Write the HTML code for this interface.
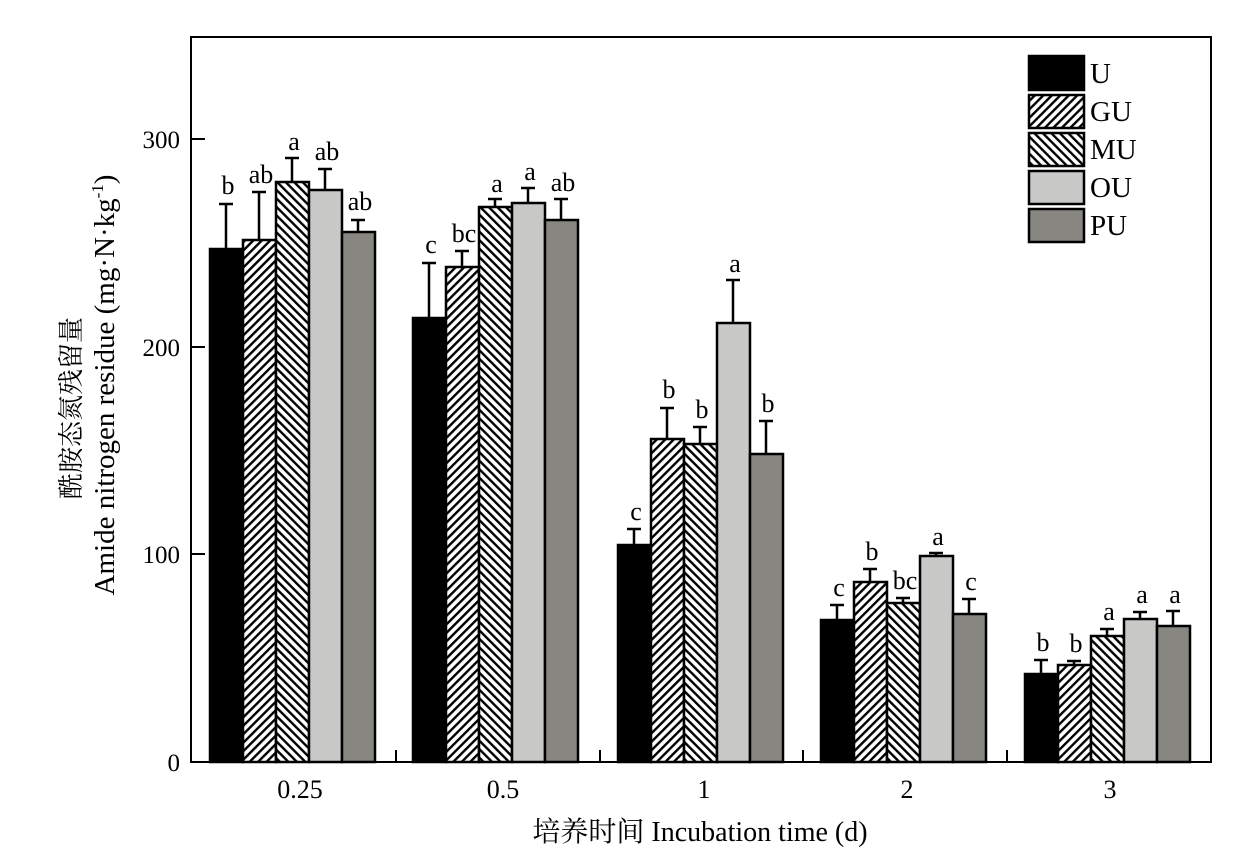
<!DOCTYPE html>
<html><head><meta charset="utf-8"><style>body{margin:0;background:#fff}svg{display:block}text{font-family:"Liberation Serif","Noto Serif CJK SC",serif;fill:#000}</style></head><body>
<svg width="1237" height="861" viewBox="0 0 1237 861">
<defs>
<pattern id="g" patternUnits="userSpaceOnUse" width="6" height="6" patternTransform="rotate(45)"><rect width="6" height="6" fill="#fff"/><rect width="2.4" height="6" fill="#000"/></pattern>
<pattern id="m" patternUnits="userSpaceOnUse" width="6" height="6" patternTransform="rotate(-45)"><rect width="6" height="6" fill="#fff"/><rect width="2.4" height="6" fill="#000"/></pattern>
</defs>
<rect x="191" y="37" width="1020" height="725" fill="none" stroke="#000" stroke-width="2"/>
<g stroke="#000" stroke-width="2">
<line x1="191" y1="139" x2="205" y2="139"/><line x1="191" y1="347" x2="205" y2="347"/><line x1="191" y1="554" x2="205" y2="554"/>
<line x1="396" y1="762" x2="396" y2="750"/><line x1="600" y1="762" x2="600" y2="750"/><line x1="803" y1="762" x2="803" y2="750"/><line x1="1007" y1="762" x2="1007" y2="750"/>
</g>
<g font-size="25" text-anchor="end"><text x="180" y="148">300</text><text x="180" y="356">200</text><text x="180" y="563">100</text><text x="180" y="771">0</text></g>
<g font-size="26" text-anchor="middle"><text x="300" y="798">0.25</text><text x="503" y="798">0.5</text><text x="704" y="798">1</text><text x="907" y="798">2</text><text x="1110" y="798">3</text></g>
<text x="700" y="841" font-size="28" text-anchor="middle">培养时间 Incubation time (d)</text>
<text transform="translate(80,408) rotate(-90)" font-size="26" text-anchor="middle">酰胺态氮残留量</text>
<text transform="translate(114,385) rotate(-90)" font-size="29" text-anchor="middle">Amide nitrogen residue (mg·N·kg<tspan font-size="17" dy="-11">-1</tspan><tspan dy="11">)</tspan></text>
<g stroke="#000" stroke-width="2.5">
<path d="M226 249V204M219 204H233 M259 240V192M252 192H266 M292 182V158M285 158H299 M325 190V169M318 169H332 M358 232V220M351 220H365
M429 318V263M422 263H436 M462 267V251M455 251H469 M495 207V199M488 199H502 M528 203V188M521 188H535 M561 220V199M554 199H568
M634 545V529M627 529H641 M667 439V408M660 408H674 M700 444V427M693 427H707 M733 323V280M726 280H740 M766 454V421M759 421H773
M837 620V605M830 605H844 M870 582V569M863 569H877 M903 603V598M896 598H910 M936 556V553M929 553H943 M969 614V599M962 599H976
M1041 674V660M1034 660H1048 M1074 665V661M1067 661H1081 M1107 636V629M1100 629H1114 M1140 619V612M1133 612H1147 M1173 626V611M1166 611H1180" fill="none"/>
</g>
<g stroke="#000" stroke-width="2.5">
<rect x="210" y="249" width="33" height="513" fill="#000"/><rect x="243" y="240" width="33" height="522" fill="url(#g)"/><rect x="276" y="182" width="33" height="580" fill="url(#m)"/><rect x="309" y="190" width="33" height="572" fill="#c8c8c6"/><rect x="342" y="232" width="33" height="530" fill="#878680"/>
<rect x="413" y="318" width="33" height="444" fill="#000"/><rect x="446" y="267" width="33" height="495" fill="url(#g)"/><rect x="479" y="207" width="33" height="555" fill="url(#m)"/><rect x="512" y="203" width="33" height="559" fill="#c8c8c6"/><rect x="545" y="220" width="33" height="542" fill="#878680"/>
<rect x="618" y="545" width="33" height="217" fill="#000"/><rect x="651" y="439" width="33" height="323" fill="url(#g)"/><rect x="684" y="444" width="33" height="318" fill="url(#m)"/><rect x="717" y="323" width="33" height="439" fill="#c8c8c6"/><rect x="750" y="454" width="33" height="308" fill="#878680"/>
<rect x="821" y="620" width="33" height="142" fill="#000"/><rect x="854" y="582" width="33" height="180" fill="url(#g)"/><rect x="887" y="603" width="33" height="159" fill="url(#m)"/><rect x="920" y="556" width="33" height="206" fill="#c8c8c6"/><rect x="953" y="614" width="33" height="148" fill="#878680"/>
<rect x="1025" y="674" width="33" height="88" fill="#000"/><rect x="1058" y="665" width="33" height="97" fill="url(#g)"/><rect x="1091" y="636" width="33" height="126" fill="url(#m)"/><rect x="1124" y="619" width="33" height="143" fill="#c8c8c6"/><rect x="1157" y="626" width="33" height="136" fill="#878680"/>
</g>
<g font-size="26" text-anchor="middle">
<text x="228" y="194">b</text><text x="261" y="183">ab</text><text x="294" y="150">a</text><text x="327" y="160">ab</text><text x="360" y="210">ab</text>
<text x="431" y="253">c</text><text x="464" y="242">bc</text><text x="497" y="192">a</text><text x="530" y="180">a</text><text x="563" y="191">ab</text>
<text x="636" y="520">c</text><text x="669" y="398">b</text><text x="702" y="418">b</text><text x="735" y="272">a</text><text x="768" y="412">b</text>
<text x="839" y="596">c</text><text x="872" y="560">b</text><text x="905" y="589">bc</text><text x="938" y="545">a</text><text x="971" y="590">c</text>
<text x="1043" y="651">b</text><text x="1076" y="652">b</text><text x="1109" y="620">a</text><text x="1142" y="603">a</text><text x="1175" y="603">a</text>
</g>
<g stroke="#000" stroke-width="2.5">
<rect x="1029" y="56" width="55" height="34" fill="#000"/><rect x="1029" y="95" width="55" height="33" fill="url(#g)"/><rect x="1029" y="133" width="55" height="33" fill="url(#m)"/><rect x="1029" y="171" width="55" height="33" fill="#c8c8c6"/><rect x="1029" y="209" width="55" height="33" fill="#878680"/>
</g>
<g font-size="29"><text x="1090" y="83">U</text><text x="1090" y="121">GU</text><text x="1090" y="159">MU</text><text x="1090" y="197">OU</text><text x="1090" y="235">PU</text></g>
</svg>
</body></html>
